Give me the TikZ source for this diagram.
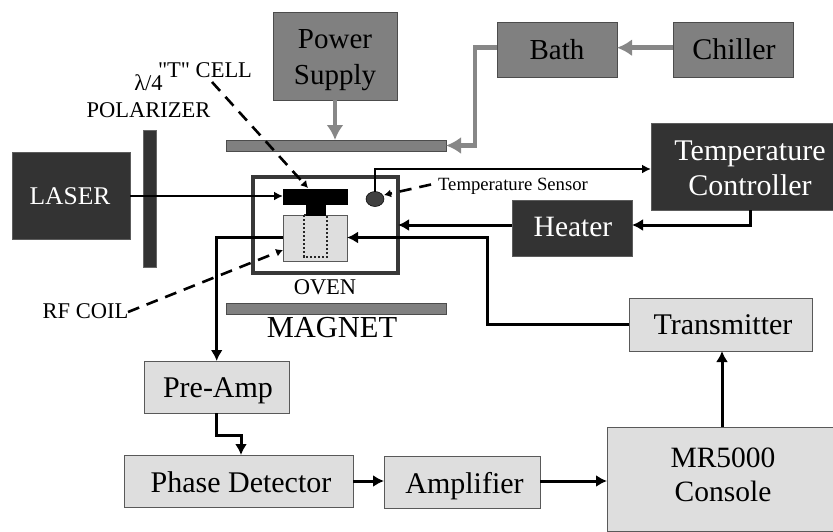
\documentclass[tikz,border=0pt]{standalone}
\usepackage{fontspec}
\setmainfont{Liberation Serif}
\newfontfamily\plainserif{Liberation Serif}
\usetikzlibrary{arrows.meta,shapes.geometric}
\definecolor{dk}{gray}{0.2}
\definecolor{md}{gray}{0.5}
\definecolor{gr}{gray}{0.53}
\definecolor{lt}{gray}{0.87}
\tikzset{
 x=1pt,y=-1pt,
 bx/.style 2 args={anchor=north west,minimum width=#1,minimum height=#2,inner sep=0pt,outer sep=0pt,align=center,line width=0.9pt},
 darkbox/.style={fill=dk,draw=dk!80},
 midbox/.style={fill=md,draw=black!70},
 lightbox/.style={fill=lt,draw=black!65},
 thinarrow/.style={draw=black,line width=2pt,-{Latex[length=9pt,width=9pt]}},
 medarrow/.style={draw=black,line width=3pt,-{Latex[length=11pt,width=12pt]}},
 grayarrow/.style={draw=gr,line width=4.6pt,-{Latex[length=15pt,width=17pt]}},
 dasharrow/.style={draw=black,line width=2.6pt,dash pattern=on 12pt off 8pt,-{Latex[length=7pt,width=8pt]}},
 lab/.style={inner sep=0pt,text=black,anchor=base},
 wlab/.style={lab,text=white},
 big/.style={font=\fontsize{30}{34}\selectfont},
 small/.style={font=\fontsize{22.5}{25}\selectfont},
}
\begin{document}
\begin{tikzpicture}
\useasboundingbox (0,0) rectangle (833,531);
% dark / mid boxes
\node[bx={118pt}{87pt},darkbox] (laser) at (12,152) {};
\node[bx={13pt}{137pt},fill=dk,draw=black!60] (pol) at (143,130) {};
\node[bx={124pt}{88pt},midbox] (power) at (273,12) {};
\node[bx={120pt}{55pt},midbox] (bath) at (497,22) {};
\node[bx={120pt}{55pt},midbox] (chiller) at (673,22) {};
\node[bx={220pt}{11pt},midbox] (topbar) at (226,140) {};
\node[bx={220pt}{11pt},midbox] (botbar) at (226,303) {};
\node[bx={182pt}{87pt},darkbox] (tc) at (651,123) {};
\node[bx={120pt}{56pt},darkbox] (heater) at (512,200) {};
% oven
\node[bx={145pt}{96pt},draw=black!78,line width=3.6pt] (oven) at (253,177) {};
\node[bx={64pt}{46pt},lightbox] (cell) at (283,215) {};
\draw[black!85,line width=2.2pt,dash pattern=on 2.2pt off 1.8pt] (304,215) rectangle (327,257);
\node[bx={65pt}{16pt},fill=black] (ttop) at (283,189) {};
\node[bx={20pt}{11pt},fill=black] (tstem) at (306,205) {};
\node[draw=black,fill=black!75,ellipse,minimum width=18pt,minimum height=15pt,inner sep=0pt,outer sep=0pt,line width=.5pt] (sensor) at (375,199) {};
% light boxes
\node[bx={145pt}{52pt},lightbox] (pre) at (144,361) {};
\node[bx={229pt}{52pt},lightbox] (phase) at (124,455) {};
\node[bx={156pt}{52pt},lightbox] (amp) at (384,456) {};
\node[bx={226pt}{104pt},lightbox] (console) at (607,427) {};
\node[bx={183pt}{53pt},lightbox] (tx) at (629,298) {};
% box texts
\node[wlab,font=\fontsize{25.5}{28}\selectfont] (laserT) at (70,204) {LASER};
\node[lab,font=\fontsize{29}{32}\selectfont] (powerA) at (335,48) {Power};
\node[lab,font=\fontsize{29}{32}\selectfont] (powerB) at (335,84) {Supply};
\node[lab,font=\fontsize{29}{32}\selectfont] (bathT) at (557,59) {Bath};
\node[lab,big] (chillerT) at (734,59) {Chiller};
\node[wlab,big] (tcA) at (750,160) {Temperature};
\node[wlab,big] (tcB) at (750,195) {Controller};
\node[wlab,font=\fontsize{29.5}{32}\selectfont] (heaterT) at (573,236) {Heater};
\node[lab,big] (preT) at (218,397) {Pre-Amp};
\node[lab,big] (phaseT) at (241,492) {Phase Detector};
\node[lab,big] (ampT) at (464.5,493) {Amplifier};
\node[lab,font=\fontsize{29.5}{32}\selectfont] (consA) at (723,467) {MR5000};
\node[lab,font=\fontsize{29.5}{32}\selectfont] (consB) at (723,501) {Console};
\node[lab,big] (txT) at (723,334) {Transmitter};
% labels
\node[lab,small] (tlab) at (148.5,90) {λ/4};
\node[lab,small] (celllab) at (205,77) {\plainserif "T" CELL};
\node[lab,small] (pollab) at (148.5,117) {POLARIZER};
\node[lab,font=\fontsize{18.7}{20}\selectfont] (tslab) at (513,190) {Temperature Sensor};
\node[lab,small] (rflab) at (85.5,318) {RF COIL};
\node[lab,small] (ovenlab) at (325,294) {OVEN};
\node[lab,font=\fontsize{30.5}{33}\selectfont] (maglab) at (332,337) {MAGNET};
% free ends of leaders and tips
\coordinate (cellStart) at (212,82);
\coordinate (cellTip) at (308,188);
\coordinate (tsStart) at (431,184.5);
\coordinate (tsTip) at (384,195);
\coordinate (rfStart) at (128,312);
\coordinate (rfTip) at (283,250);
% gray arrows
\draw[grayarrow] (power.south) -- (power.south |- topbar.north);
\draw[grayarrow] (chiller.west |- 0,47.7) -- (bath.east |- 0,47.7);
\draw[grayarrow] (bath.west |- 0,47.7) -- (475,47.7) -- (475,145.5) -- (topbar.east);
% thin
\draw[thinarrow] (laser.east |- 0,196) -- (ttop.west |- 0,196);
\draw[thinarrow] (sensor.north) -- (375,169) -- (tc.west |- 0,169);
% medium
\draw[medarrow] (heater.west |- 0,225) -- (oven.east |- 0,225);
\draw[medarrow] (750,210) -- (750,225) -- (heater.east |- 0,225);
\draw[medarrow] (tx.west |- 0,324) -- (487,324) -- (487,237.5) -- (cell.east |- 0,237.5);
\draw[medarrow] (cell.west |- 0,237.5) -- (216.7,237.5) -- (216.7,361);
\draw[medarrow] (216.7,413) -- (216.7,435) -- (241,435) -- (241,455);
\draw[medarrow] (phase.east |- 0,481) -- (amp.west |- 0,481);
\draw[medarrow] (amp.east |- 0,481) -- (console.west |- 0,481);
\draw[medarrow] (722,427) -- (722,351);
% dashed
\draw[dasharrow] (cellStart) -- (cellTip);
\draw[dasharrow] (tsStart) -- (tsTip);
\draw[dasharrow] (rfStart) -- (rfTip);
\end{tikzpicture}
\end{document}
